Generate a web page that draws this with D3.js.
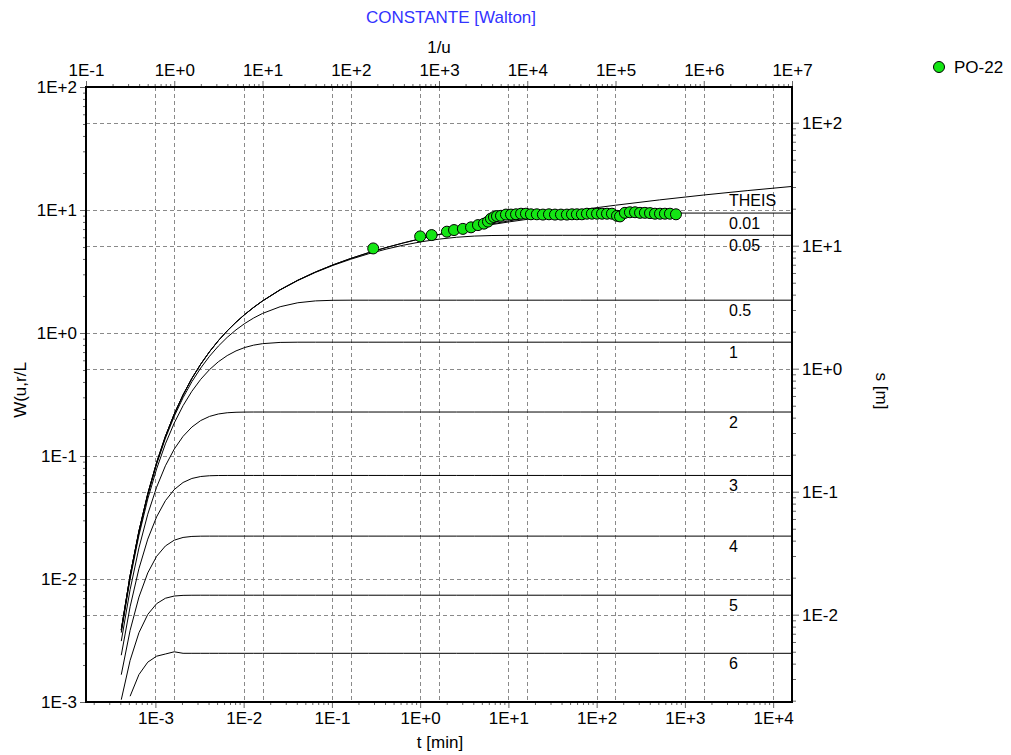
<!DOCTYPE html>
<html><head><meta charset="utf-8">
<script src="https://cdn.jsdelivr.net/npm/d3@7/dist/d3.min.js"></script>
<style>
body{margin:0;background:#fff;}
text{font-family:"Liberation Sans",Arial,Helvetica,sans-serif;}
</style></head><body>
<svg id="chart" width="1011" height="755"></svg>
<script>
// ---------- DATA ----------
// type-curve abscissa 1/u (top axis)
const invU = [0.251,0.316,0.398,0.501,0.631,0.794,1,1.259,1.585,1.995,2.512,3.162,3.981,5.012,6.31,7.943,10,
  15.85,25.12,39.81,63.1,100,158.5,251.2,398.1,631,1000,1585,2512,3981,6310,1e4,15849,25119,39811,63096,1e5,
  316228,1e6,3162278,1e7];
// W(u, r/L) for each curve (left axis)
const wTheis = [0.003866,0.01065,0.02452,0.04924,0.0882,0.1444,0.2194,0.3138,0.4277,0.5583,0.7056,0.867,1.0408,1.2247,1.4173,1.6172,1.8229,
  2.2479,2.6858,3.1319,3.5832,4.0379,4.4948,4.953,5.412,5.8717,6.3315,6.7917,7.252,7.7124,8.1728,8.6332,9.0937,9.5542,10.0147,10.4752,10.9357,
  12.087,13.2383,14.3896,15.5409];
const w001 = [0.003866,0.01065,0.02452,0.04924,0.0882,0.1444,0.2194,0.3138,0.4277,0.5582,0.7055,0.8669,1.0406,1.2246,1.4172,1.6171,1.8227,
  2.2476,2.6853,3.131,3.5817,4.0356,4.491,4.9468,5.4021,5.8557,6.3069,6.7526,7.1903,7.6153,8.0173,8.3983,8.7338,9.0127,9.2214,9.3532,9.4176,
  9.4424,9.4425,9.4425,9.4425];
const w005 = [0.003866,0.01065,0.02452,0.04923,0.08817,0.1443,0.2193,0.3136,0.4274,0.5579,0.705,0.8661,1.0395,1.2229,1.4148,1.6138,1.8184,
  2.24,2.6724,3.1097,3.5469,3.9795,4.4016,4.8056,5.1817,5.5171,5.7964,6.0056,6.1383,6.2032,6.2244,6.2282,6.2285,6.2285,6.2285,6.2285,6.2285,
  6.2285,6.2285,6.2285,6.2285];
const w05 = [0.003815,0.01048,0.02404,0.04807,0.08567,0.1394,0.2103,0.2982,0.402,0.5193,0.6472,0.7825,0.9217,1.0608,1.1961,1.3244,1.4422,
  1.6352,1.7613,1.8241,1.8448,1.8486,1.8488,1.8488,1.8488,1.8488,1.8488,1.8488,1.8488,1.8488,1.8488,1.8488,1.8488,1.8488,1.8488,1.8488,1.8488,
  1.8488,1.8488,1.8488,1.8488];
const w1 = [0.003666,0.009989,0.02266,0.04473,0.07853,0.1255,0.1854,0.2567,0.3362,0.4201,0.5041,0.5838,0.6552,0.7154,0.7627,0.7968,0.8191,
  0.8384,0.8418,0.842,0.842,0.842,0.842,0.842,0.842,0.842,0.842,0.842,0.842,0.842,0.842,0.842,0.842,0.842,0.842,0.842,0.842,
  0.842,0.842,0.842,0.842];
const w2 = [0.003127,0.008191,0.0179,0.03362,0.05575,0.08327,0.1139,0.1445,0.172,0.1942,0.2099,0.2196,0.2247,0.2268,0.2276,0.2278,0.2278,
  0.2278,0.2278,0.2278,0.2278,0.2278,0.2278,0.2278,0.2278,0.2278,0.2278,0.2278,0.2278,0.2278,0.2278,0.2278,0.2278,0.2278,0.2278,0.2278,0.2278,
  0.2278,0.2278,0.2278,0.2278];
const w3 = [0.002401,0.005944,0.01214,0.02109,0.032,0.04333,0.05337,0.06092,0.06567,0.06811,0.0691,0.0694,0.06947,0.06948,0.06948,0.06948,0.06948,
  0.06948,0.06948,0.06948,0.06948,0.06948,0.06948,0.06948,0.06948,0.06948,0.06948,0.06948,0.06948,0.06948,0.06948,0.06948,0.06948,0.06948,0.06948,0.06948,0.06948,
  0.06948,0.06948,0.06948,0.06948];
const w4 = [0.001667,0.003819,0.007129,0.01121,0.01528,0.01856,0.02069,0.02177,0.02219,0.0223,0.02232,0.02232,0.02232,0.02232,0.02232,0.02232,0.02232,
  0.02232,0.02232,0.02232,0.02232,0.02232,0.02232,0.02232,0.02232,0.02232,0.02232,0.02232,0.02232,0.02232,0.02232,0.02232,0.02232,0.02232,0.02232,0.02232,0.02232,
  0.02232,0.02232,0.02232,0.02232];
const w5 = [0.001044,0.002177,0.003659,0.005149,0.0063,0.006976,0.00727,0.007361,0.007378,0.007382,0.007382,0.007382,0.007382,0.007382,0.007382,0.007382,0.007382,
  0.007382,0.007382,0.007382,0.007382,0.007382,0.007382,0.007382,0.007382,0.007382,0.007382,0.007382,0.007382,0.007382,0.007382,0.007382,0.007382,0.007382,0.007382,0.007382,0.007382,
  0.007382,0.007382,0.007382,0.007382];
const w6 = [null,0.001114,0.001671,0.002108,0.002357,0.002456,0.00256,0.002488,0.002488,0.002488,0.002488,0.002488,0.002488,0.002488,0.002488,0.002488,0.002488,
  0.002488,0.002488,0.002488,0.002488,0.002488,0.002488,0.002488,0.002488,0.002488,0.002488,0.002488,0.002488,0.002488,0.002488,0.002488,0.002488,0.002488,0.002488,0.002488,0.002488,
  0.002488,0.002488,0.002488,0.002488];
const curveNames = ["THEIS","0.01","0.05","0.5","1","2","3","4","5","6"];
const curveValues = [wTheis,w001,w005,w05,w1,w2,w3,w4,w5,w6];

// observation well PO-22: time [min] and drawdown s [m] (bottom / right axes)
const tMin = [0.294,1.0,1.35,2.01,2.42,3.05,3.77,4.52,5.28,5.87,6.34,6.86,7.42,8.24,9.38,10.7,12.2,13.9,15.8,18.0,21.0,24.6,28.8,33.7,39.4,46.0,
  52.5,59.7,68.0,77.6,88.3,101,115,131,149,170,184,209,238,272,310,352,402,458,522,594,677,792];
const sM = [9.5,11.9,12.2,13.0,13.4,13.7,14.1,14.7,15.1,15.7,16.6,17.1,17.4,17.5,17.9,17.9,18.0,18.2,18.2,18.0,18.0,17.9,18.0,17.9,17.9,17.9,
  18.0,18.0,18.0,18.2,18.2,18.2,18.2,18.2,18.2,17.5,17.3,18.5,18.7,18.7,18.5,18.5,18.4,18.2,18.2,18.2,18.2,18.0];
const seriesName = "PO-22";

// axis tick values (decades)
const topDecades = [0.1,1,10,100,1e3,1e4,1e5,1e6,1e7];
const bottomDecades = [1e-3,1e-2,1e-1,1,10,100,1e3,1e4];
const leftDecades = [1e-3,1e-2,1e-1,1,10,100];
const rightDecades = [1e-2,1e-1,1,10,100];

// ---------- LAYOUT ----------
const svg = d3.select("#chart");
const L=86, R=792, T=87, B=702;
const xTop = d3.scaleLog().domain([0.1,1e7]).range([L,R]);
const xBot = d3.scaleLog().domain([Math.pow(10,-3.7864),Math.pow(10,4.2136)]).range([L,R]);
const yL = d3.scaleLog().domain([1e-3,1e2]).range([B,T]);
const yR = d3.scaleLog().domain([Math.pow(10,-2.7098),Math.pow(10,2.2902)]).range([B,T]);

const fmt = v => { const e = Math.round(Math.log10(v)); return "1E" + (e >= 0 ? "+" : "-") + Math.abs(e); };
function minors(scale){
  const [a,b] = scale.domain().map(Math.log10);
  const out=[];
  for(let d=Math.floor(Math.min(a,b)); d<=Math.ceil(Math.max(a,b)); d++){
    for(let k=2;k<=9;k++){ const v=k*Math.pow(10,d); const lv=Math.log10(v);
      if(lv>=Math.min(a,b)-1e-9 && lv<=Math.max(a,b)+1e-9) out.push(v);}
  }
  return out;
}
function inDom(scale, vals){ const [a,b]=scale.domain().map(Math.log10);
  return vals.filter(v=>{const l=Math.log10(v); return l>=Math.min(a,b)-1e-9 && l<=Math.max(a,b)+1e-9;}); }

// ---------- GRID ----------
const grid = svg.append("g").attr("stroke","#8a8a8a").attr("stroke-width",1).attr("stroke-dasharray","4,3").attr("fill","none");
const vx = [...inDom(xTop,topDecades).map(d=>xTop(d)), ...inDom(xBot,bottomDecades).map(d=>xBot(d))].filter(x=>x>L+1 && x<R-1);
vx.forEach(x=>grid.append("line").attr("x1",Math.round(x)+0.5).attr("x2",Math.round(x)+0.5).attr("y1",T).attr("y2",B));
const hy = [...inDom(yL,leftDecades).map(d=>yL(d)), ...inDom(yR,rightDecades).map(d=>yR(d))].filter(y=>y>T+1 && y<B-1);
hy.forEach(y=>grid.append("line").attr("y1",Math.round(y)+0.5).attr("y2",Math.round(y)+0.5).attr("x1",L).attr("x2",R));

// ---------- AXES ----------
function styleAxis(g){ g.select(".domain").remove(); g.selectAll(".tick line").attr("stroke","#666");
  g.selectAll("text").attr("fill","#000").style("font-size","17px").style("font-family","'Liberation Sans',Arial,sans-serif"); }
const axTopMin = svg.append("g").attr("transform",`translate(0,${T})`).call(d3.axisTop(xTop).tickValues(minors(xTop)).tickSize(3).tickFormat(""));
styleAxis(axTopMin);
const axTop = svg.append("g").attr("transform",`translate(0,${T})`).call(d3.axisTop(xTop).tickValues(inDom(xTop,topDecades)).tickSize(6).tickPadding(5).tickFormat(fmt));
styleAxis(axTop);
const axBotMin = svg.append("g").attr("transform",`translate(0,${B})`).call(d3.axisBottom(xBot).tickValues(minors(xBot)).tickSize(3).tickFormat(""));
styleAxis(axBotMin);
const axBot = svg.append("g").attr("transform",`translate(0,${B})`).call(d3.axisBottom(xBot).tickValues(inDom(xBot,bottomDecades)).tickSize(6).tickPadding(4).tickFormat(fmt));
styleAxis(axBot);
const axLMin = svg.append("g").attr("transform",`translate(${L},0)`).call(d3.axisLeft(yL).tickValues(minors(yL)).tickSize(3).tickFormat(""));
styleAxis(axLMin);
const axL = svg.append("g").attr("transform",`translate(${L},0)`).call(d3.axisLeft(yL).tickValues(inDom(yL,leftDecades)).tickSize(6).tickPadding(3).tickFormat(fmt));
styleAxis(axL);
const axRMin = svg.append("g").attr("transform",`translate(${R},0)`).call(d3.axisRight(yR).tickValues(minors(yR)).tickSize(4).tickFormat(""));
styleAxis(axRMin);
const axR = svg.append("g").attr("transform",`translate(${R},0)`).call(d3.axisRight(yR).tickValues(inDom(yR,rightDecades)).tickSize(7).tickPadding(3).tickFormat(fmt));
styleAxis(axR);

// ---------- TYPE CURVES ----------
const line = d3.line().defined(d=>d!=null).x((d,i)=>xTop(invU[i])).y(d=>yL(d));
const curves = svg.append("g").attr("fill","none").attr("stroke","#000").attr("stroke-width",1);
curveValues.forEach(vals=>{
  curves.append("path").datum(vals).attr("d",line);
});
// curve labels (placed just under each curve near the right end)
const labelIdx = invU.indexOf(3162278);
curveNames.forEach((n,i)=>{
  svg.append("text").attr("x",729).attr("y",yL(curveValues[i][labelIdx])+10)
    .attr("dy","0.35em").style("font-size","16px").attr("fill","#000").text(n);
});

// ---------- DATA POINTS ----------
svg.append("g").selectAll("circle").data(tMin).join("circle")
  .attr("cx",d=>xBot(d)).attr("cy",(d,i)=>yR(sM[i])).attr("r",5.5)
  .attr("fill","#14e614").attr("stroke","#000").attr("stroke-width",1);

// ---------- FRAME ----------
svg.append("rect").attr("x",L).attr("y",T).attr("width",R-L).attr("height",B-T)
  .attr("fill","none").attr("stroke","#000").attr("stroke-width",2);

// ---------- TITLES ----------
svg.append("text").attr("x",451).attr("y",17).attr("dy","0.35em").attr("text-anchor","middle")
  .style("font-size","17px").attr("fill","#3333ff").text("CONSTANTE [Walton]");
svg.append("text").attr("x",439).attr("y",47).attr("dy","0.35em").attr("text-anchor","middle")
  .style("font-size","17px").attr("fill","#000").text("1/u");
svg.append("text").attr("x",440).attr("y",742).attr("dy","0.35em").attr("text-anchor","middle")
  .style("font-size","17px").attr("fill","#000").text("t [min]");
svg.append("text").attr("transform","translate(20,390) rotate(-90)").attr("dy","0.35em").attr("text-anchor","middle")
  .style("font-size","17px").attr("fill","#000").text("W(u,r/L");
svg.append("text").attr("transform","translate(882,391) rotate(90)").attr("dy","0.35em").attr("text-anchor","middle")
  .style("font-size","17px").attr("fill","#000").text("s [m]");

// ---------- LEGEND ----------
svg.append("circle").attr("cx",939).attr("cy",67).attr("r",5.5).attr("fill","#14e614").attr("stroke","#000");
svg.append("text").attr("x",954).attr("y",67).attr("dy","0.35em").style("font-size","17px").attr("fill","#000").text(seriesName);
</script>
</body></html>
